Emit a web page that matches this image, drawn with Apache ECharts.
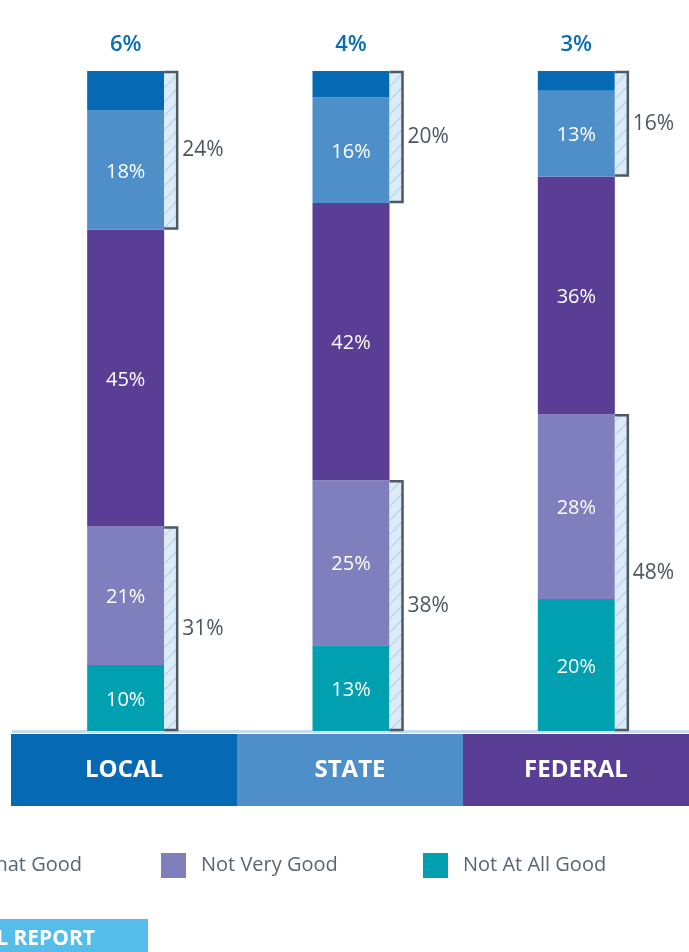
<!DOCTYPE html>
<html>
<head>
<meta charset="utf-8">
<script src="https://cdn.jsdelivr.net/npm/echarts@6/dist/echarts.min.js"></script>
<style>
  html, body { margin: 0; padding: 0; background: #fff; }
  #chart { width: 689px; height: 952px; }
</style>
</head>
<body>
<div id="chart"></div>
<script>
const categories = ["LOCAL", "STATE", "FEDERAL"]
const veryGood = [6, 4, 3]
const good = [18, 16, 13]
const somewhatGood = [45, 42, 36]
const notVeryGood = [21, 25, 28]
const notAtAllGood = [10, 13, 20]

const FONT = "'Open Sans', Lato, sans-serif"
const colors = {
  veryGood: "#0569b3",
  good: "#4e8fca",
  somewhatGood: "#5a3e96",
  notVeryGood: "#7f7fbe",
  notAtAllGood: "#00a0b0"
}

/* hatch fill for bracket strips */
const hatch = document.createElement("canvas")
hatch.width = 14
hatch.height = 14
const hctx = hatch.getContext("2d")
hctx.fillStyle = "#ddebf8"
hctx.fillRect(0, 0, 14, 14)
hctx.strokeStyle = "#b6d8f2"
hctx.lineWidth = 1.5
hctx.beginPath()
hctx.moveTo(-2, 16)
hctx.lineTo(16, -2)
hctx.stroke()

// bracket data: [category index, from, to, label]
const brackets = []
categories.forEach((c, i) => {
  const low = notAtAllGood[i] + notVeryGood[i]
  const mid = low + somewhatGood[i]
  const high = good[i] + veryGood[i]
  brackets.push([i, mid, mid + high, high])
  brackets.push([i, 0, low, low])
})

const BAR_W = 77
const STRIP_W = 13

function renderBracket(params, api) {
  const p0 = api.coord([api.value(0), api.value(1)])
  const p1 = api.coord([api.value(0), api.value(2)])
  const x0 = p0[0] + BAR_W / 2
  const x1 = x0 + STRIP_W
  const yb = p0[1]
  const yt = p1[1]
  return {
    type: "group",
    children: [
      {
        type: "rect",
        shape: { x: x0, y: yt, width: STRIP_W, height: yb - yt },
        style: { fill: { image: hatch, repeat: "repeat" } }
      },
      {
        type: "polyline",
        shape: { points: [[x0, yt + 1], [x1, yt + 1], [x1, yb - 1], [x0, yb - 1]] },
        style: { stroke: "#4d5963", lineWidth: 2.5, fill: null }
      },
      {
        type: "text",
        style: {
          x: x1 + 5,
          y: (yt + yb) / 2,
          text: api.value(3) + "%",
          fill: "#4b5661",
          font: "21px " + FONT,
          verticalAlign: "middle",
          align: "left"
        }
      }
    ]
  }
}

const insideLabel = {
  show: true,
  position: "inside",
  offset: [0, 2],
  color: "#fff",
  fontSize: 20,
  fontFamily: FONT,
  formatter: "{c}%"
}

function stackBar(name, data, color, label) {
  return {
    name: name,
    type: "bar",
    stack: "total",
    xAxisIndex: 0,
    yAxisIndex: 0,
    barWidth: BAR_W,
    data: data,
    itemStyle: { color: color },
    label: label,
    emphasis: { disabled: true }
  }
}

const legendText = { color: "#5a6570", fontSize: 20, fontFamily: FONT, padding: [0, 0, 0, 10] }
function legendItem(name, pos) {
  return Object.assign({
    data: [name],
    top: 853,
    itemWidth: 25,
    itemHeight: 25,
    icon: "rect",
    padding: 0,
    selectedMode: false,
    textStyle: legendText
  }, pos)
}

const option = {
  animation: false,
  grid: [
    { left: 13, width: 684, top: 71, bottom: 221 },
    { left: 11, width: 684, top: 734, height: 72 }
  ],
  xAxis: [
    {
      type: "category",
      gridIndex: 0,
      data: categories,
      axisLine: { show: true, lineStyle: { color: "#cadcf0", width: 3 } },
      axisTick: { show: false },
      axisLabel: { show: false }
    },
    {
      type: "category",
      gridIndex: 1,
      data: categories,
      axisLine: { show: false },
      axisTick: { show: false },
      axisLabel: { show: false }
    }
  ],
  yAxis: [
    { type: "value", gridIndex: 0, min: 0, max: 100, show: false },
    { type: "value", gridIndex: 1, min: 0, max: 1, show: false }
  ],
  legend: [
    legendItem("Somewhat Good", { right: 607 }),
    legendItem("Not Very Good", { left: 161 }),
    legendItem("Not At All Good", { left: 423 })
  ],
  series: [
    stackBar("Not At All Good", notAtAllGood, colors.notAtAllGood, insideLabel),
    stackBar("Not Very Good", notVeryGood, colors.notVeryGood, insideLabel),
    stackBar("Somewhat Good", somewhatGood, colors.somewhatGood, insideLabel),
    stackBar("Good", good, colors.good, insideLabel),
    stackBar("Very Good", veryGood, colors.veryGood, {
      show: true,
      position: "top",
      distance: 15,
      color: "#0a6cb5",
      fontSize: 22,
      fontWeight: 600,
      fontFamily: FONT,
      formatter: "{c}%"
    }),
    {
      name: "brackets",
      type: "custom",
      xAxisIndex: 0,
      yAxisIndex: 0,
      renderItem: renderBracket,
      data: brackets,
      z: 5,
      silent: true
    },
    {
      name: "band",
      type: "bar",
      xAxisIndex: 1,
      yAxisIndex: 1,
      barCategoryGap: "0%",
      silent: true,
      data: categories.map((c, i) => ({
        value: 1,
        itemStyle: { color: [colors.veryGood, colors.good, colors.somewhatGood][i] }
      })),
      label: {
        show: true,
        position: "inside",
        color: "#fff",
        fontSize: 24,
        fontWeight: "bold",
        fontFamily: FONT,
        formatter: (p) => p.name
      }
    }
  ],
  graphic: [
    {
      type: "rect",
      shape: { x: 0, y: 919, width: 148, height: 40 },
      style: { fill: "#55bde9" }
    },
    {
      type: "text",
      style: {
        x: 95,
        y: 939,
        text: "READ THE FULL REPORT",
        fill: "#fff",
        font: "bold 21px " + FONT,
        align: "right",
        verticalAlign: "middle"
      }
    }
  ]
}

const chart = echarts.init(document.getElementById("chart"), null, { renderer: "canvas" })
chart.setOption(option)
</script>
</body>
</html>
